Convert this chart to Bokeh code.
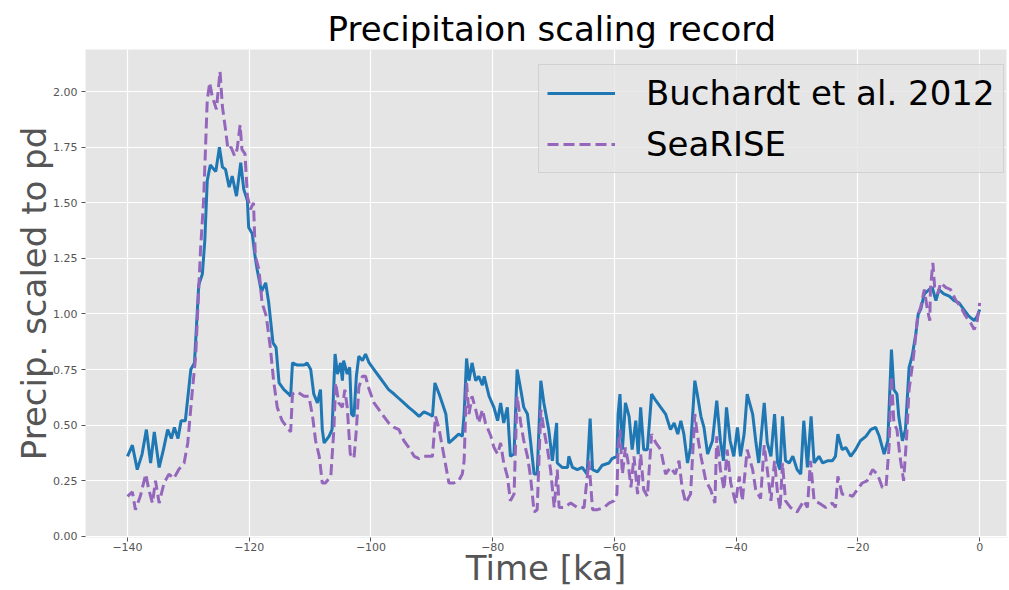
from bokeh.plotting import figure
from bokeh.models import Range1d, FixedTicker, NumeralTickFormatter, Legend, LegendItem
from bokeh.embed import file_html
from bokeh.resources import INLINE

# ---- data ----
buch_time = [-140.0, -139.2, -138.4, -137.6, -136.9, -136.2, -135.6, -134.8, -134.1, -133.4,
             -132.8, -132.3, -131.7, -131.2, -130.5, -129.6, -129.0, -128.3, -127.7, -127.3,
             -126.9, -126.4, -125.5, -124.9, -124.4, -123.9, -123.3, -122.8, -122.1, -121.4,
             -120.9, -120.3, -120.1, -119.5, -119.1, -118.7, -118.0, -117.3, -116.8, -116.1,
             -115.6, -115.1, -114.3, -113.5, -113.2, -112.9, -112.1, -111.0, -110.5, -109.9,
             -109.4, -108.8, -108.3, -108.0, -107.7, -106.9, -106.4, -105.9, -105.5, -105.0,
             -104.7, -104.5, -103.9, -103.5, -103.2, -102.8, -102.4, -102.0, -101.4, -100.9,
             -100.3, -99.5, -98.7, -97.9, -97.1, -96.2, -95.4, -94.6, -93.8, -92.9,
             -92.1, -91.3, -90.5, -89.9, -89.5, -88.8, -88.3, -87.7, -87.2, -86.4,
             -85.6, -85.0, -84.7, -84.3, -83.9, -83.4, -82.8, -82.3, -81.7, -81.4,
             -80.6, -79.8, -79.2, -78.7, -78.2, -77.6, -77.1, -76.5, -76.0, -75.4,
             -74.9, -74.3, -73.8, -73.2, -72.7, -72.1, -71.6, -70.8, -70.2, -69.5,
             -69.4, -68.6, -67.7, -67.5, -66.9, -66.1, -65.3, -64.5, -64.0, -63.6,
             -62.8, -62.0, -60.9, -60.4, -59.6, -59.4, -59.1, -58.7, -58.2, -57.6,
             -57.1, -56.5, -56.1, -55.7, -55.2, -54.6, -53.9, -53.2, -52.4, -51.6,
             -50.8, -50.2, -49.6, -49.1, -48.6, -48.0, -47.5, -46.8, -46.4, -45.8,
             -45.3, -44.7, -43.9, -43.2, -42.6, -42.1, -41.6, -41.0, -40.4, -39.8,
             -39.3, -38.7, -38.2, -37.3, -36.8, -36.3, -35.4, -34.9, -34.3, -33.7,
             -33.2, -32.8, -32.4, -31.9, -31.3, -30.7, -30.0, -29.4, -28.9, -28.3,
             -27.7, -27.2, -26.4, -25.8, -25.0, -24.2, -23.7, -23.3, -22.6, -22.0,
             -21.2, -20.4, -19.6, -18.7, -17.9, -17.1, -16.5, -15.7, -15.1, -14.5,
             -14.1, -13.6, -13.3, -12.7, -12.2, -11.6, -11.1, -10.5, -10.1, -9.7,
             -9.1, -8.3, -7.8, -7.2, -6.7, -5.9, -5.0, -4.2, -3.4, -2.6,
             -1.8, -0.9, -0.4, 0.0]
buch_value = [0.36, 0.41, 0.30, 0.37, 0.48, 0.33, 0.47, 0.31, 0.39, 0.48,
              0.44, 0.49, 0.44, 0.52, 0.52, 0.75, 0.78, 1.13, 1.18, 1.33,
              1.60, 1.67, 1.64, 1.75, 1.66, 1.65, 1.57, 1.62, 1.53, 1.68,
              1.56, 1.51, 1.39, 1.36, 1.27, 1.20, 1.10, 1.14, 1.05, 0.87,
              0.85, 0.69, 0.66, 0.64, 0.63, 0.78, 0.77, 0.77, 0.78, 0.75,
              0.64, 0.60, 0.66, 0.48, 0.42, 0.45, 0.48, 0.82, 0.73, 0.78,
              0.70, 0.79, 0.73, 0.76, 0.55, 0.54, 0.72, 0.81, 0.79, 0.82,
              0.78, 0.75, 0.72, 0.69, 0.66, 0.64, 0.62, 0.60, 0.58, 0.56,
              0.54, 0.56, 0.55, 0.54, 0.69, 0.64, 0.60, 0.55, 0.42, 0.44,
              0.46, 0.45, 0.55, 0.80, 0.70, 0.78, 0.70, 0.72, 0.68, 0.72,
              0.63, 0.58, 0.52, 0.60, 0.51, 0.58, 0.36, 0.37, 0.75, 0.66,
              0.58, 0.55, 0.43, 0.28, 0.28, 0.70, 0.60, 0.48, 0.34, 0.51,
              0.33, 0.31, 0.31, 0.36, 0.31, 0.30, 0.31, 0.28, 0.53, 0.30,
              0.29, 0.32, 0.33, 0.35, 0.36, 0.55, 0.64, 0.39, 0.60, 0.54,
              0.39, 0.52, 0.37, 0.58, 0.39, 0.39, 0.64, 0.61, 0.58, 0.55,
              0.48, 0.51, 0.46, 0.52, 0.46, 0.33, 0.40, 0.70, 0.64, 0.54,
              0.49, 0.37, 0.43, 0.61, 0.43, 0.34, 0.58, 0.43, 0.36, 0.49,
              0.36, 0.46, 0.64, 0.55, 0.43, 0.33, 0.60, 0.42, 0.36, 0.55,
              0.33, 0.30, 0.54, 0.34, 0.33, 0.36, 0.30, 0.28, 0.52, 0.31,
              0.54, 0.33, 0.36, 0.33, 0.34, 0.34, 0.36, 0.46, 0.39, 0.40,
              0.36, 0.39, 0.43, 0.45, 0.48, 0.49, 0.45, 0.37, 0.43, 0.84,
              0.66, 0.64, 0.54, 0.43, 0.48, 0.76, 0.81, 0.91, 1.00, 1.02,
              1.09, 1.11, 1.12, 1.06, 1.11, 1.09, 1.08, 1.06, 1.05, 1.02,
              0.99, 0.97, 0.99, 1.02]

searise_time = [-140.0, -139.2, -138.7, -137.9, -137.0, -136.5, -135.9, -135.4, -134.8, -134.0,
                -133.2, -132.4, -131.6, -130.7, -130.1, -129.4, -128.8, -128.4, -128.0, -127.5,
                -126.9, -126.5, -126.1, -125.4, -124.8, -124.4, -123.9, -123.5, -123.0, -122.4,
                -122.0, -121.5, -121.2, -120.7, -120.3, -119.8, -119.3, -119.0, -118.4, -117.9,
                -117.2, -116.5, -116.0, -115.4, -114.6, -113.8, -113.2, -112.9, -112.1, -111.0,
                -110.2, -109.6, -109.1, -108.5, -108.0, -107.5, -106.6, -106.1, -105.8, -105.3,
                -104.7, -104.3, -103.9, -103.4, -102.8, -102.4, -102.0, -101.4, -100.9, -100.3,
                -99.5, -98.7, -97.9, -97.1, -96.2, -95.4, -94.6, -93.8, -92.9, -92.1,
                -91.3, -90.5, -89.9, -89.4, -88.8, -88.0, -87.2, -86.4, -85.6, -85.0,
                -84.7, -84.3, -83.9, -83.4, -82.8, -82.3, -81.7, -81.2, -80.3, -79.8,
                -79.2, -78.7, -78.2, -77.6, -77.1, -76.5, -76.0, -75.4, -74.9, -74.3,
                -73.8, -73.2, -72.7, -72.1, -71.6, -71.0, -70.5, -69.9, -69.4, -69.1,
                -68.3, -67.2, -66.1, -65.0, -64.2, -63.6, -62.8, -61.7, -60.9, -60.1,
                -59.6, -59.4, -59.1, -58.7, -58.2, -57.8, -57.3, -56.8, -56.2, -55.7,
                -55.2, -54.6, -53.9, -53.2, -52.4, -51.6, -50.8, -50.0, -49.4, -48.9,
                -48.3, -47.5, -46.8, -46.4, -45.8, -45.0, -44.2, -43.5, -43.2, -42.6,
                -42.0, -41.5, -40.9, -40.1, -39.5, -39.0, -38.2, -37.3, -36.8, -36.0,
                -35.4, -34.9, -34.3, -33.7, -33.2, -32.8, -32.4, -31.9, -31.1, -30.0,
                -28.9, -28.3, -27.8, -27.2, -26.4, -25.3, -24.2, -23.7, -23.3, -22.6,
                -21.8, -20.9, -20.1, -19.3, -18.5, -17.6, -16.8, -16.0, -15.4, -14.9,
                -14.5, -14.1, -13.6, -13.1, -12.5, -12.0, -11.6, -11.1, -10.7, -10.2,
                -9.7, -9.1, -8.6, -8.2, -8.1, -7.7, -7.4, -6.9, -6.4, -5.6,
                -4.8, -3.9, -3.1, -2.3, -1.5, -0.9, -0.4, 0.0]
searise_value = [0.18, 0.20, 0.12, 0.18, 0.28, 0.21, 0.15, 0.25, 0.15, 0.24,
                 0.28, 0.26, 0.30, 0.33, 0.42, 0.64, 0.81, 1.05, 1.29, 1.51,
                 1.96, 2.04, 1.98, 1.92, 2.09, 1.93, 1.83, 1.74, 1.75, 1.71,
                 1.74, 1.85, 1.74, 1.72, 1.53, 1.47, 1.50, 1.26, 1.20, 1.05,
                 0.99, 0.84, 0.70, 0.58, 0.52, 0.49, 0.47, 0.64, 0.65, 0.63,
                 0.63, 0.54, 0.43, 0.36, 0.24, 0.24, 0.27, 0.48, 0.69, 0.60,
                 0.58, 0.66, 0.58, 0.37, 0.35, 0.48, 0.67, 0.72, 0.72, 0.66,
                 0.60, 0.57, 0.54, 0.51, 0.49, 0.48, 0.43, 0.40, 0.36, 0.35,
                 0.36, 0.36, 0.36, 0.54, 0.48, 0.36, 0.24, 0.24, 0.25, 0.28,
                 0.34, 0.69, 0.55, 0.63, 0.57, 0.51, 0.57, 0.51, 0.45, 0.40,
                 0.37, 0.42, 0.33, 0.27, 0.16, 0.19, 0.63, 0.51, 0.43, 0.36,
                 0.27, 0.11, 0.12, 0.57, 0.48, 0.39, 0.30, 0.13, 0.30, 0.13,
                 0.13, 0.15, 0.13, 0.13, 0.34, 0.12, 0.12, 0.13, 0.15, 0.16,
                 0.19, 0.40, 0.48, 0.28, 0.40, 0.34, 0.22, 0.36, 0.19, 0.37,
                 0.21, 0.18, 0.46, 0.42, 0.39, 0.28, 0.31, 0.28, 0.34, 0.22,
                 0.15, 0.19, 0.55, 0.46, 0.36, 0.25, 0.21, 0.15, 0.45, 0.30,
                 0.21, 0.39, 0.24, 0.15, 0.27, 0.16, 0.39, 0.30, 0.21, 0.17,
                 0.41, 0.30, 0.16, 0.34, 0.19, 0.12, 0.33, 0.16, 0.13, 0.11,
                 0.16, 0.13, 0.34, 0.16, 0.15, 0.13, 0.15, 0.13, 0.27, 0.19,
                 0.19, 0.18, 0.21, 0.24, 0.25, 0.30, 0.28, 0.22, 0.22, 0.40,
                 0.72, 0.51, 0.48, 0.36, 0.25, 0.45, 0.66, 0.76, 0.85, 0.99,
                 1.03, 1.11, 1.02, 0.97, 1.11, 1.23, 1.12, 1.09, 1.14, 1.12,
                 1.11, 1.06, 1.03, 0.99, 0.96, 0.93, 0.97, 1.05]

x_ticks = [-140, -120, -100, -80, -60, -40, -20, 0]
y_ticks = [0.0, 0.25, 0.5, 0.75, 1.0, 1.25, 1.5, 1.75, 2.0]

title_text = "Precipitaion scaling record"
x_label = "Time [ka]"
y_label = "Precip. scaled to pd"
series_names = ["Buchardt et al. 2012", "SeaRISE"]

FONT = "DejaVu Sans"
GREY = "#555555"

p = figure(width=1009, height=590, output_backend="svg", toolbar_location=None,
           x_range=Range1d(-146.9, 4.4), y_range=Range1d(-0.005, 2.189),
           min_border_left=85, min_border_right=3, min_border_top=49, min_border_bottom=53,
           background_fill_color="#E5E5E5", border_fill_color="white")
p.outline_line_color = None

p.title.text = title_text
p.title.align = "left"
p.title.offset = 242
p.title.text_font = FONT
p.title.text_font_size = "34px"
p.title.text_font_style = "normal"
p.title.text_color = "black"
p.title.standoff = 2

p.xgrid.grid_line_color = "white"
p.ygrid.grid_line_color = "white"
p.xgrid.grid_line_width = 1.2
p.ygrid.grid_line_width = 1.2

p.xaxis.ticker = FixedTicker(ticks=x_ticks)
p.yaxis.ticker = FixedTicker(ticks=y_ticks)
p.yaxis.formatter = NumeralTickFormatter(format="0.00")
for ax in (p.xaxis, p.yaxis):
    ax.axis_line_color = None
    ax.major_tick_line_color = GREY
    ax.major_tick_out = 4
    ax.major_tick_in = 0
    ax.minor_tick_line_color = None
    ax.major_label_text_font = FONT
    ax.major_label_text_font_size = "11px"
    ax.major_label_text_color = GREY
    ax.axis_label_text_font = FONT
    ax.axis_label_text_font_style = "normal"
    ax.axis_label_text_color = GREY
p.xaxis.axis_label = x_label
p.yaxis.axis_label = y_label
p.xaxis.axis_label_text_font_size = "34px"
p.yaxis.axis_label_text_font_size = "34px"
p.xaxis.axis_label_standoff = -6
p.yaxis.axis_label_standoff = -4
p.xaxis.major_label_standoff = 1
p.yaxis.major_label_standoff = 4

r1 = p.line(buch_time, buch_value, line_color="#1f77b4", line_width=3)
r2 = p.line(searise_time, searise_value, line_color="#9467bd", line_width=3,
            line_dash="11 5")

legend = Legend(items=[LegendItem(label=series_names[0], renderers=[r1]),
                       LegendItem(label=series_names[1], renderers=[r2])],
                location=(453, 364))
legend.label_text_font = FONT
legend.label_text_font_size = "34px"
legend.label_text_color = "black"
legend.glyph_width = 68
legend.glyph_height = 40
legend.label_height = 40
legend.label_standoff = 31
legend.spacing = 11
legend.padding = 8
legend.margin = 0
legend.background_fill_color = "#E5E5E5"
legend.background_fill_alpha = 0.8
legend.border_line_color = "#CCCCCC"
legend.border_line_alpha = 0.8
p.add_layout(legend)

open("out.html", "w").write(file_html(p, INLINE))
